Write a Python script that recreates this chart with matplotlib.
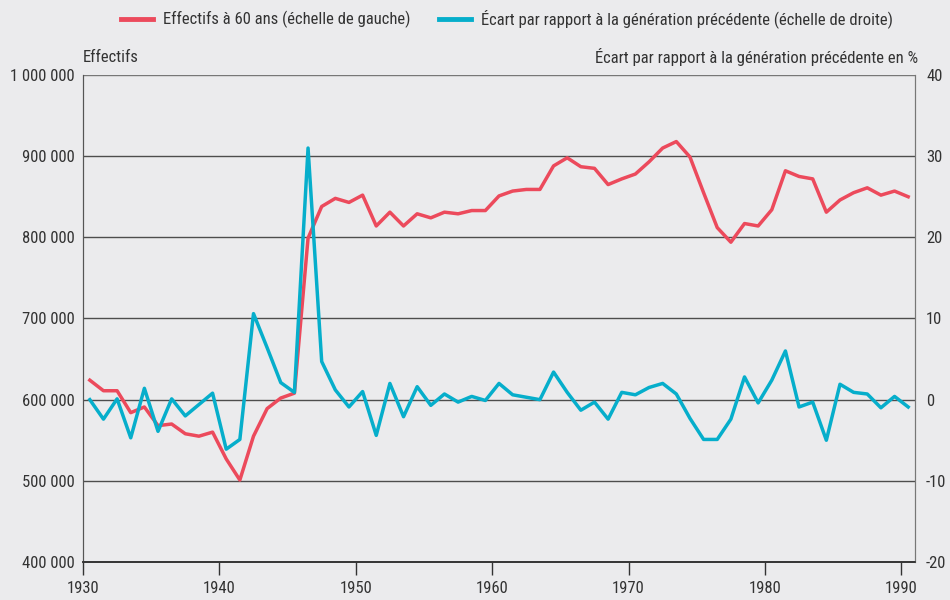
import matplotlib
matplotlib.use("Agg")
import matplotlib.pyplot as plt
from matplotlib.lines import Line2D
from matplotlib.ticker import FuncFormatter

# police étroite proche de l'original
plt.rcParams['font.family'] = ['Roboto Condensed', 'DejaVu Sans']
plt.rcParams['axes.unicode_minus'] = False

# données
annees = list(range(1930, 1991))
effectifs = [
    624000, 611000, 611000, 584000, 591000, 568000, 570000, 558000, 555000, 560000,
    527000, 501000, 555000, 589000, 602000, 608000, 799000, 838000, 848000, 843000,
    852000, 814000, 831000, 814000, 829000, 824000, 831000, 829000, 833000, 833000,
    851000, 857000, 859000, 859000, 888000, 898000, 887000, 885000, 865000, 872000,
    878000, 893000, 910000, 918000, 899000, 855000, 812000, 794000, 817000, 814000,
    834000, 882000, 875000, 872000, 831000, 846000, 855000, 861000, 852000, 857000,
    850000,
]
ecart = [
    0.0, -2.4, 0.1, -4.7, 1.4, -3.9, 0.1, -2.0, -0.6, 0.8,
    -6.1, -4.9, 10.6, 6.4, 2.1, 0.9, 31.0, 4.7, 1.2, -0.9,
    1.0, -4.4, 2.0, -2.1, 1.6, -0.7, 0.7, -0.3, 0.4, -0.1,
    2.0, 0.6, 0.3, 0.0, 3.4, 0.9, -1.3, -0.3, -2.4, 0.9,
    0.6, 1.5, 2.0, 0.7, -2.3, -4.9, -4.9, -2.4, 2.8, -0.4,
    2.4, 6.0, -0.9, -0.3, -5.0, 1.9, 0.9, 0.7, -1.0, 0.4,
    -0.9,
]
x = [a + 0.5 for a in annees]

rouge = '#EC4A5C'
bleu = '#06AECB'
fond = '#EBEBED'
texte = '#333333'
fs = 12

fig = plt.figure(figsize=(9.5, 6), dpi=100, facecolor=fond)
ax = fig.add_axes([83 / 950, 1 - 562 / 600, (915 - 83) / 950, (562 - 75) / 600])
ax.set_facecolor(fond)
ax2 = ax.twinx()

ax.set_xlim(1930, 1991)
ax.set_ylim(400000, 1000000)
ax2.set_ylim(-20, 40)

# grille horizontale
for v in range(500000, 1000001, 100000):
    c = '#777777' if v == 1000000 else '#4d4d4d'
    ax.axhline(v, color=c, lw=1.0, zorder=1)

ax.plot(x, effectifs, color=rouge, lw=2.5, zorder=3)
ax2.plot(x, ecart, color=bleu, lw=2.5, zorder=3)

ax.set_xticks(range(1930, 1991, 10))
ax.set_yticks(range(400000, 1000001, 100000))
ax.yaxis.set_major_formatter(FuncFormatter(lambda v, p: f"{int(v):,}".replace(',', ' ')))
ax2.set_yticks(range(-20, 41, 10))

ax.tick_params(axis='x', length=9, width=1, color='#333333', pad=5,
               labelsize=fs, labelcolor=texte)
ax.tick_params(axis='y', length=0, pad=6, labelsize=fs, labelcolor=texte)
ax2.tick_params(axis='y', length=0, pad=8, labelsize=fs, labelcolor=texte)

for a in (ax, ax2):
    a.spines['top'].set_visible(False)
    a.spines['left'].set_color('#555555')
    a.spines['right'].set_color('#777777')
    a.spines['bottom'].set_color('#333333')
    a.spines['bottom'].set_linewidth(1.2)

fig.text(83 / 950, 1 - 57 / 600, 'Effectifs', ha='left', va='center',
         fontsize=fs, color=texte)
fig.text(918 / 950, 1 - 57 / 600, 'Écart par rapport à la génération précédente en %',
         ha='right', va='center', fontsize=fs, color=texte)

handles = [Line2D([], [], color=rouge, lw=3.5), Line2D([], [], color=bleu, lw=3.5)]
labels = ['Effectifs à 60 ans (échelle de gauche)',
          'Écart par rapport à la génération précédente (échelle de droite)']
fig.legend(handles, labels, loc='center', bbox_to_anchor=(507 / 950, 1 - 19 / 600),
           ncol=2, frameon=False, fontsize=fs, labelcolor=texte,
           handlelength=1.9, handletextpad=0.6, columnspacing=1.7)

fig.savefig('out.png', dpi=100, facecolor=fond)
